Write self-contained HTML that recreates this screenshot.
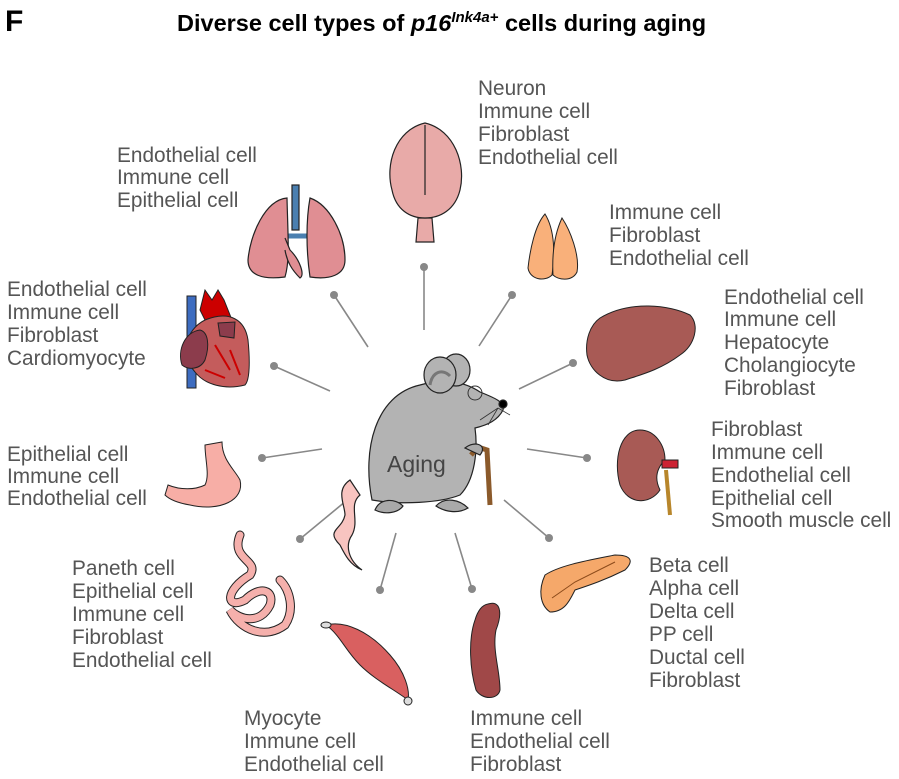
<!DOCTYPE html>
<html><head><meta charset="utf-8"><style>
html,body{margin:0;padding:0;background:#fff;}
svg{display:block;}
text{font-family:"Liberation Sans",Arial,sans-serif;}
.l{font-size:20.8px;fill:#555;}
</style></head><body>
<svg width="899" height="779" viewBox="0 0 899 779" xmlns="http://www.w3.org/2000/svg">
<text x="5" y="31" font-size="30" font-weight="bold" fill="#000">F</text>
<text x="177" y="31" font-size="23.5" font-weight="bold" fill="#000">Diverse cell types of <tspan font-style="italic">p16</tspan><tspan font-style="italic" font-size="15" dy="-9">Ink4a+</tspan><tspan dy="9"> cells during aging</tspan></text>

<!-- connectors -->
<g stroke="#888" stroke-width="1.6" fill="#888">
<line x1="424" y1="267" x2="424" y2="330"/><circle cx="424" cy="267" r="4" stroke="none"/>
<line x1="334" y1="295" x2="368" y2="347"/><circle cx="334" cy="295" r="4" stroke="none"/>
<line x1="512" y1="295" x2="479" y2="346"/><circle cx="512" cy="295" r="4" stroke="none"/>
<line x1="274" y1="366" x2="330" y2="391"/><circle cx="274" cy="366" r="4" stroke="none"/>
<line x1="573" y1="363" x2="519" y2="389"/><circle cx="573" cy="363" r="4" stroke="none"/>
<line x1="262" y1="458" x2="322" y2="449"/><circle cx="262" cy="458" r="4" stroke="none"/>
<line x1="587" y1="458" x2="527" y2="449"/><circle cx="587" cy="458" r="4" stroke="none"/>
<line x1="300" y1="539" x2="346" y2="501"/><circle cx="300" cy="539" r="4" stroke="none"/>
<line x1="549" y1="538" x2="504" y2="500"/><circle cx="549" cy="538" r="4" stroke="none"/>
<line x1="380" y1="590" x2="396" y2="533"/><circle cx="380" cy="590" r="4" stroke="none"/>
<line x1="472" y1="589" x2="455" y2="533"/><circle cx="472" cy="589" r="4" stroke="none"/>
</g>

<!-- mouse -->
<g stroke="#222" stroke-width="1.2">
<path d="M350 480 C335 490 345 505 345 515 C342 530 325 530 340 545 C345 555 350 565 362 570 C348 560 345 545 352 535 C360 520 348 505 360 495 Z" fill="#f8c4c0"/>
<path d="M372 500 C362 450 375 395 420 385 C445 378 465 382 480 392 C495 398 505 402 503 410 C498 420 488 425 475 428 C478 450 475 480 460 495 C440 503 400 505 372 500 Z" fill="#b3b3b3"/>
<ellipse cx="456" cy="370" rx="14" ry="16" fill="#b3b3b3"/>
<ellipse cx="440" cy="375" rx="16" ry="18" fill="#b3b3b3"/>
<path d="M430 385 C432 372 442 368 450 376" fill="none" stroke="#777" stroke-width="3"/>
<path d="M375 510 C380 498 395 498 403 506 C398 513 385 515 375 510 Z" fill="#a9a9a9"/>
<path d="M436 506 C445 496 460 500 468 508 C458 514 445 512 436 506 Z" fill="#a9a9a9"/>
<path d="M471 455 L478 447 L487 450 L490 505" fill="none" stroke="#8b5a2b" stroke-width="5"/>
<path d="M465 448 C475 440 488 445 480 455 Z" fill="#aaa"/>
<circle cx="475" cy="393" r="7" fill="none" stroke="#333" stroke-width="1"/>
<circle cx="503" cy="404" r="4" fill="#000"/>
<path d="M498 408 L480 420 M498 408 L488 425 M498 408 L510 415" stroke="#333" stroke-width="0.8" fill="none"/>
</g>
<text x="387" y="472" font-size="23" fill="#444">Aging</text>

<!-- brain -->
<g stroke="#222" stroke-width="1.2" fill="#e8aaa8">
<path d="M416 242 L418 218 L432 218 L434 242 Z"/>
<path d="M425 123 C395 130 385 165 392 190 C396 210 410 218 425 218 C440 218 455 210 460 190 C466 165 455 130 425 123 Z"/>
<path d="M425 125 L425 195" fill="none"/>
</g>

<!-- lungs -->
<g stroke="#222" stroke-width="1.2">
<rect x="292" y="185" width="7" height="45" fill="#4a7fb0"/>
<path d="M283 236 L308 236" stroke="#4a7fb0" stroke-width="5"/>
<path d="M287 198 C265 200 250 235 248 260 C248 275 262 280 285 277 C290 260 288 240 287 198 Z" fill="#e08e93"/>
<path d="M285 238 L290 250 C300 260 305 275 300 278 C292 270 287 262 285 250" fill="#e08e93"/>
<path d="M310 198 C330 205 345 235 345 260 C345 275 330 280 310 277 C306 250 306 220 310 198 Z" fill="#e08e93"/>
</g>

<!-- thyroid -->
<g stroke="#222" stroke-width="1" fill="#f9b07a">
<path d="M545 214 C535 225 530 250 528 268 C530 280 545 282 552 275 C555 255 555 230 545 214 Z"/>
<path d="M562 218 C570 230 580 255 577 272 C572 282 558 280 553 275 C552 255 554 235 562 218 Z"/>
</g>

<!-- heart -->
<g stroke="#222" stroke-width="1">
<rect x="187" y="296" width="9" height="92" fill="#3d6cc0"/>
<path d="M200 310 L205 290 L212 300 L218 290 L224 300 L232 320 L210 330 Z" fill="#cc0000"/>
<path d="M205 320 C230 310 245 320 248 340 C250 360 250 380 245 385 C225 390 205 385 195 372 C180 355 185 330 205 320 Z" fill="#c45c5c"/>
<path d="M200 330 C185 332 177 350 182 365 C188 370 200 370 205 360 C210 345 208 332 200 330 Z" fill="#8c3c4c"/>
<path d="M218 323 L235 322 L234 338 L220 336 Z" fill="#8c3c4c"/>
<path d="M215 345 L230 370 M230 350 L240 375 M205 370 L225 378" stroke="#cc0000" stroke-width="2" fill="none"/>
</g>

<!-- liver -->
<g stroke="#222" stroke-width="1" fill="#a85a55">
<path d="M600 318 C630 300 670 305 690 315 C700 325 695 345 680 355 C660 370 640 375 625 380 C605 385 590 370 587 355 C585 340 590 325 600 318 Z"/>
</g>

<!-- kidney -->
<g stroke="#222" stroke-width="1">
<path d="M640 430 C620 430 613 460 620 485 C628 505 650 505 660 490 C655 480 655 470 665 460 C665 445 655 430 640 430 Z" fill="#a85a55"/>
<rect x="662" y="460" width="16" height="8" fill="#cc2233"/>
<path d="M666 470 L670 515" stroke="#b8862b" stroke-width="4"/>
</g>

<!-- stomach -->
<g stroke="#222" stroke-width="1" fill="#f7aea6">
<path d="M205 445 L222 442 C222 460 235 470 240 480 C245 500 220 512 190 505 C178 503 170 500 165 495 L168 485 C180 490 195 490 205 485 C210 475 205 460 205 445 Z"/>
</g>

<!-- intestine -->
<g fill="none" stroke-linecap="round">
<path d="M240 535 C230 560 260 560 250 575 C225 590 225 610 245 600 C260 585 275 590 270 605 C260 625 240 620 230 610 C240 630 265 640 285 625 C295 610 290 590 280 580" stroke="#222" stroke-width="9"/>
<path d="M240 535 C230 560 260 560 250 575 C225 590 225 610 245 600 C260 585 275 590 270 605 C260 625 240 620 230 610 C240 630 265 640 285 625 C295 610 290 590 280 580" stroke="#f5b0ac" stroke-width="7"/>
</g>

<!-- pancreas -->
<g stroke="#222" stroke-width="1">
<path d="M545 575 C560 565 590 560 615 555 C630 555 635 560 625 570 C605 580 590 585 575 590 C570 600 565 612 550 612 C540 605 538 590 545 575 Z" fill="#f5a86a"/>
<path d="M552 598 L575 582 L615 562" fill="none" stroke="#8b4a1a"/>
</g>

<!-- muscle -->
<g stroke="#222" stroke-width="1">
<path d="M326 625 C345 620 370 632 390 655 C405 672 410 690 408 700 C395 690 375 680 360 665 C345 650 340 635 326 625 Z" fill="#d96060"/>
<ellipse cx="326" cy="625" rx="5" ry="3" fill="#ddd"/>
<ellipse cx="408" cy="701" rx="4" ry="4" fill="#ddd"/>
</g>

<!-- spleen -->
<path d="M488 604 C500 600 503 612 496 630 C492 650 500 670 500 690 C498 700 482 700 476 690 C470 670 468 640 475 620 C478 610 482 605 488 604 Z" fill="#a04848" stroke="#222" stroke-width="1"/>

<!-- labels -->
<text class="l" x="478" y="95">Neuron</text>
<text class="l" x="478" y="118">Immune cell</text>
<text class="l" x="478" y="141">Fibroblast</text>
<text class="l" x="478" y="164">Endothelial cell</text>

<text class="l" x="117" y="162">Endothelial cell</text>
<text class="l" x="117" y="184">Immune cell</text>
<text class="l" x="117" y="207">Epithelial cell</text>

<text class="l" x="609" y="219">Immune cell</text>
<text class="l" x="609" y="242">Fibroblast</text>
<text class="l" x="609" y="265">Endothelial cell</text>

<text class="l" x="7" y="296">Endothelial cell</text>
<text class="l" x="7" y="319">Immune cell</text>
<text class="l" x="7" y="342">Fibroblast</text>
<text class="l" x="7" y="365">Cardiomyocyte</text>

<text class="l" x="724" y="304">Endothelial cell</text>
<text class="l" x="724" y="326">Immune cell</text>
<text class="l" x="724" y="349">Hepatocyte</text>
<text class="l" x="724" y="372">Cholangiocyte</text>
<text class="l" x="724" y="395">Fibroblast</text>

<text class="l" x="7" y="461">Epithelial cell</text>
<text class="l" x="7" y="483">Immune cell</text>
<text class="l" x="7" y="505">Endothelial cell</text>

<text class="l" x="711" y="436">Fibroblast</text>
<text class="l" x="711" y="459">Immune cell</text>
<text class="l" x="711" y="482">Endothelial cell</text>
<text class="l" x="711" y="505">Epithelial cell</text>
<text class="l" x="711" y="527">Smooth muscle cell</text>

<text class="l" x="72" y="575">Paneth cell</text>
<text class="l" x="72" y="598">Epithelial cell</text>
<text class="l" x="72" y="621">Immune cell</text>
<text class="l" x="72" y="644">Fibroblast</text>
<text class="l" x="72" y="667">Endothelial cell</text>

<text class="l" x="649" y="572">Beta cell</text>
<text class="l" x="649" y="595">Alpha cell</text>
<text class="l" x="649" y="618">Delta cell</text>
<text class="l" x="649" y="641">PP cell</text>
<text class="l" x="649" y="664">Ductal cell</text>
<text class="l" x="649" y="687">Fibroblast</text>

<text class="l" x="244" y="725">Myocyte</text>
<text class="l" x="244" y="748">Immune cell</text>
<text class="l" x="244" y="771">Endothelial cell</text>

<text class="l" x="470" y="725">Immune cell</text>
<text class="l" x="470" y="748">Endothelial cell</text>
<text class="l" x="470" y="771">Fibroblast</text>
</svg>
</body></html>
